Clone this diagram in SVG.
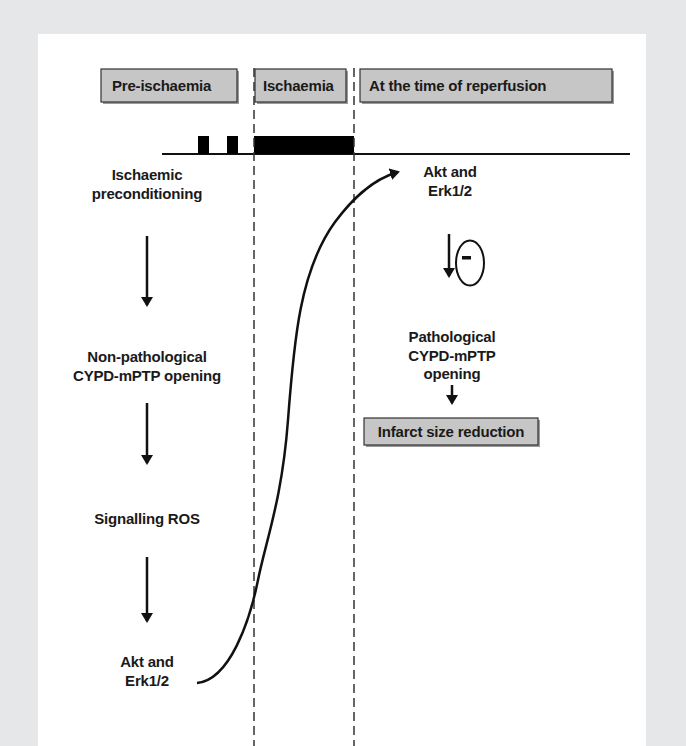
<svg xmlns="http://www.w3.org/2000/svg" width="686" height="746" viewBox="0 0 686 746">
<style>
text{font-family:"Liberation Sans",Arial,sans-serif;font-weight:bold;font-size:15px;letter-spacing:-0.2px;fill:#1a1a1a;text-anchor:middle}
text.l{text-anchor:start}
.hdr{fill:#c6c6c6;stroke:#333;stroke-width:1.2}
.shadow{fill:#9a9a9a}
.dash{stroke:#333;stroke-width:1.5;stroke-dasharray:9,5;fill:none}
.arr{stroke:#111;stroke-width:2.5;fill:none;marker-end:url(#ah)}
</style>
<defs>
<marker id="ah" viewBox="0 0 10 12" refX="8" refY="6" markerWidth="10" markerHeight="12" orient="auto" markerUnits="userSpaceOnUse">
<path d="M0,0 L10,6 L0,12 z" fill="#111"/>
</marker>
</defs>
<rect width="686" height="746" fill="#e6e7e8"/>
<rect x="38" y="34" width="608" height="712" fill="#fff"/>
<g id="hdr-pre"><rect class="shadow" x="103" y="71" width="136" height="33"/><rect class="hdr" x="101" y="69" width="136" height="33"/><text class="l" x="112" y="91">Pre-ischaemia</text></g>
<g id="hdr-isch"><rect class="shadow" x="257" y="71" width="91" height="33"/><rect class="hdr" x="255" y="69" width="91" height="33"/><text class="l" x="263" y="91">Ischaemia</text></g>
<g id="hdr-rep"><rect class="shadow" x="362" y="71" width="252" height="33"/><rect class="hdr" x="360" y="69" width="252" height="33"/><text class="l" x="369" y="91">At the time of reperfusion</text></g>
<g id="timeline">
<line x1="162" y1="154" x2="630" y2="154" stroke="#111" stroke-width="2"/>
<rect x="198" y="136" width="11" height="18" fill="#000"/>
<rect x="227" y="136" width="11" height="18" fill="#000"/>
<rect x="254" y="136" width="100" height="18" fill="#000"/>
</g>
<g id="dividers">
<line class="dash" x1="254" y1="68" x2="254" y2="746"/>
<line class="dash" x1="354" y1="68" x2="354" y2="746"/>
</g>
<g id="n-ipc"><text x="147" y="180">Ischaemic</text><text x="147" y="199">preconditioning</text></g>
<g id="n-nonpath"><text x="147" y="362">Non-pathological</text><text x="147" y="381">CYPD-mPTP opening</text></g>
<g id="n-ros"><text x="147" y="524">Signalling ROS</text></g>
<g id="n-akt1"><text x="147" y="667">Akt and</text><text x="147" y="686">Erk1/2</text></g>
<g id="n-akt2"><text x="450" y="177">Akt and</text><text x="450" y="196">Erk1/2</text></g>
<g id="n-path"><text x="452" y="342">Pathological</text><text x="452" y="361">CYPD-mPTP</text><text x="452" y="379">opening</text></g>
<g id="n-infarct"><rect class="shadow" x="366" y="420" width="174" height="27"/><rect class="hdr" x="364" y="418" width="174" height="27"/><text x="451" y="437">Infarct size reduction</text></g>
<g id="inhib"><ellipse cx="470" cy="263" rx="14" ry="22.5" fill="none" stroke="#111" stroke-width="2"/><rect x="462" y="256" width="9" height="3.5" fill="#111"/></g>
<g id="connectors">
<path class="arr" d="M147,236 V305"/>
<path class="arr" d="M147,403 V463"/>
<path class="arr" d="M147,557 V621"/>
<path class="arr" d="M449,234 V276"/>
<path class="arr" d="M452,385 V403"/>
<path class="arr" d="M197,683 C230,680 250,620 258,580 C266,540 282,500 288,420 C294,340 300,270 335,222 C350,202 370,180 398,172"/>
</g>
</svg>
